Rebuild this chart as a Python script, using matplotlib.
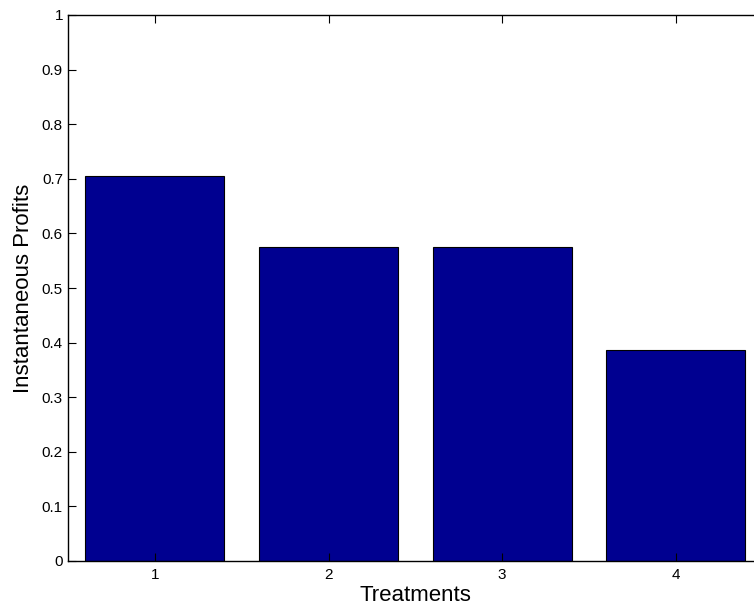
import matplotlib
matplotlib.use("Agg")
import matplotlib.pyplot as plt

plt.rcParams['font.family'] = ['Liberation Sans', 'DejaVu Sans']

# data
treatments = [1, 2, 3, 4]
profits = [0.705, 0.576, 0.576, 0.387]
y_ticks = [0, 0.1, 0.2, 0.3, 0.4, 0.5, 0.6, 0.7, 0.8, 0.9, 1]
y_tick_labels = ['0', '0.1', '0.2', '0.3', '0.4', '0.5', '0.6', '0.7', '0.8', '0.9', '1']

fig = plt.figure(figsize=(7.54, 6.09), dpi=100)
# axes runs past the right edge, as in the cropped original
ax = fig.add_axes([68 / 754, 48 / 609, 694.7 / 754, 546 / 609])

ax.bar(treatments, profits, width=0.8, color='#000090', edgecolor='black', linewidth=0.8)

ax.set_xlim(0.5, 4.5)
ax.set_ylim(0, 1)
ax.set_xticks(treatments)
ax.set_yticks(y_ticks)
ax.set_yticklabels(y_tick_labels)
ax.tick_params(direction='in', length=6, width=0.8, labelsize=11,
               top=True, right=True)
ax.tick_params(axis='x', pad=5)
ax.tick_params(axis='y', pad=3.6)
for s in ax.spines.values():
    s.set_linewidth(1.0)

ax.set_xlabel('Treatments', fontsize=16, labelpad=2.5)
ax.set_ylabel('Instantaneous Profits', fontsize=16, labelpad=6)

fig.savefig('out.png', dpi=100)
